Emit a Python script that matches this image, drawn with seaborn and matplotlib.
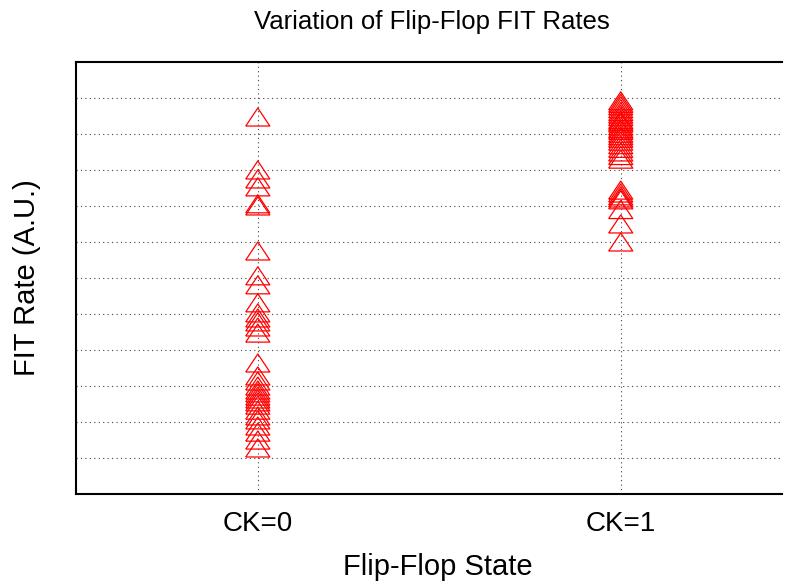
#Importing the necessary files
import pandas as pd
import matplotlib
matplotlib.use("Agg")
import matplotlib.pyplot as plt
import seaborn as sns

#FIT rates (arbitrary units)
states = ["CK=0", "CK=1"]
ck0_fit = [10.47, 9.00, 8.75, 8.53, 8.06, 8.00, 6.75, 6.06, 5.81, 5.31,
           5.03, 4.89, 4.78, 4.64, 4.47, 3.64, 3.28, 3.14, 3.00, 2.89,
           2.81, 2.72, 2.64, 2.56, 2.47, 2.33, 2.17, 2.06, 1.89, 1.72,
           1.50, 1.28]
ck1_fit = [10.92, 10.85, 10.78, 10.70, 10.62, 10.55, 10.48, 10.40, 10.35,
           10.30, 10.22, 10.15, 10.10, 10.02, 9.95, 9.88, 9.80, 9.70, 9.60,
           9.50, 9.40, 9.30, 8.44, 8.36, 8.28, 8.22, 8.17, 7.90, 7.50, 7.00]

#Building the dataframe
df = pd.DataFrame({
    "State": [states[0]] * len(ck0_fit) + [states[1]] * len(ck1_fit),
    "FIT": ck0_fit + ck1_fit,
})
df["pos"] = df["State"].map({s: i for i, s in enumerate(states)})

sns.set_style("white")
plt.rcParams["font.family"] = ["Liberation Sans", "DejaVu Sans"]
plt.rcParams["text.color"] = "black"
plt.rcParams["axes.labelcolor"] = "black"
plt.rcParams["xtick.color"] = "black"
plt.rcParams["ytick.color"] = "black"

fig = plt.figure(figsize=(7.89, 5.84), dpi=100)
ax = fig.add_axes([0.0963, 0.154, 0.8947, 0.740])

#Open triangles, a bit wider than tall
tri = [(-1, -0.75), (1, -0.75), (0, 0.75), (-1, -0.75)]
sns.scatterplot(data=df, x="pos", y="FIT", marker=tri, s=300,
                facecolor="none", edgecolor="red", linewidth=0.9,
                color="red", ax=ax, zorder=3)

ax.set_xlim(-0.501, 1.444)
ax.set_ylim(0, 12)
ax.set_xticks([0, 1])
ax.set_xticklabels(states)
ax.set_yticks(range(1, 12))
ax.set_yticklabels([])
ax.grid(True, linestyle=(0, (1, 3)), color="#444444", linewidth=0.8)
ax.tick_params(axis="both", direction="in", length=8, width=1.2,
               color="black", labelsize=20, pad=12)
ax.tick_params(axis="x", length=0)

for side in ["left", "top", "bottom"]:
    ax.spines[side].set_color("black")
    ax.spines[side].set_linewidth(1.5)
ax.spines["right"].set_visible(False)

ax.set_title("Variation of Flip-Flop FIT Rates", fontsize=18.5, pad=24, x=0.504)
ax.set_xlabel("Flip-Flop State", fontsize=21)
ax.xaxis.set_label_coords(0.513, -0.137)
ax.set_ylabel("FIT Rate (A.U.)", fontsize=21)
ax.yaxis.set_label_coords(-0.05, 0.5)

fig.savefig("out.png", dpi=100)
